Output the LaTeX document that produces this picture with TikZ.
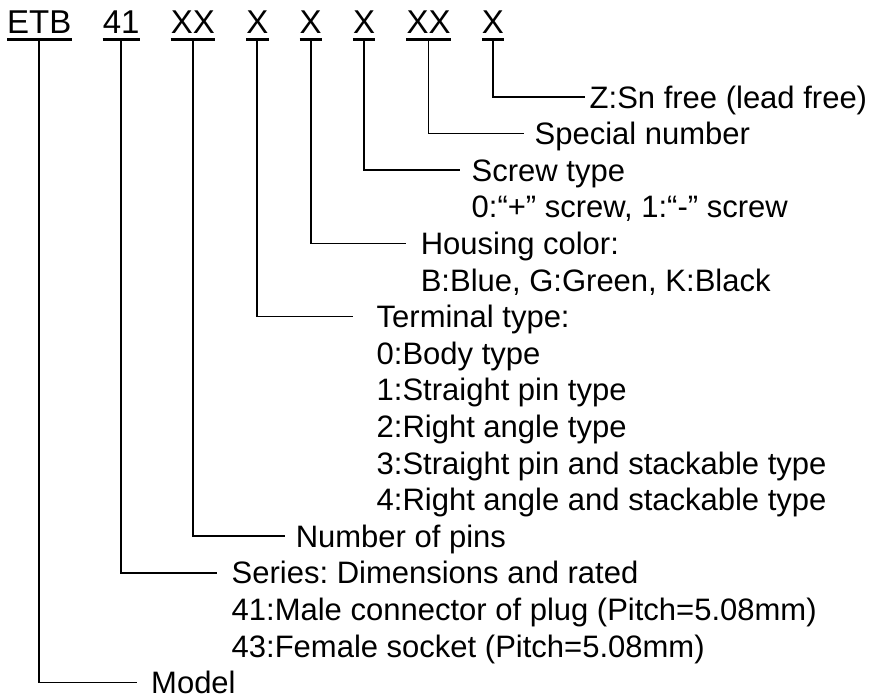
\documentclass[tikz,border=0pt]{standalone}
\usepackage{fontspec}
\setmainfont{Liberation Sans}
\usetikzlibrary{positioning}
\frenchspacing

\begin{document}
\begin{tikzpicture}[x=1pt,y=-1pt,font=\fontsize{31}{36.6}\selectfont,
  code/.style={inner sep=0pt,font=\fontsize{33}{36.6}\selectfont,text height=23.6pt,text depth=6pt},
  lab/.style={anchor=west,inner xsep=#1,inner ysep=0pt,text height=22.2pt,text depth=0pt},
  lab/.default=14pt,
  uline/.style={line width=2.6pt},
  conn/.style={line width=1.7pt}]
\useasboundingbox (0,0) rectangle (886,697);
% part number code
\node[code,anchor=base west] (cETB) at (7,33) {ETB};
\node[code,right=31pt of cETB] (cSer) {41};
\node[code,right=31pt of cSer] (cPins) {XX};
\node[code,right=31pt of cPins] (cTerm) {X};
\node[code,right=31pt of cTerm] (cColor) {X};
\node[code,right=31pt of cColor] (cScrew) {X};
\node[code,right=31pt of cScrew] (cSpec) {XX};
\node[code,right=31pt of cSpec] (cLead) {X};
\foreach \n in {cETB,cSer,cPins,cTerm,cColor,cScrew,cSpec,cLead}
  \draw[uline] (\n.south west) -- (\n.south east);
% explanations
\node[lab=4.5pt] (leadfree) at (585,97) {Z:Sn free (lead free)};
\node[lab=10.5pt] (special) at (524,133.6) {Special number};
\node[lab=11.5pt] (screw) at (460,170.2) {Screw type};
\node[lab=11.5pt] (screw1) at (460,206.8) {0:“+” screw, 1:“-” screw};
\node[lab=14.6pt] (color) at (406,243.4) {Housing color:};
\node[lab=14.6pt] (color1) at (406,280) {B:Blue, G:Green, K:Black};
\node[lab=23.5pt] (term) at (353,316.6) {Terminal type:};
\foreach \t [count=\i] in {0:Body type,1:Straight pin type,2:Right angle type,
    3:Straight pin and stackable type,4:Right angle and stackable type}
  \node[lab=23.5pt] (term\i) at ([yshift={-36.6pt*\i}]term.west) {\t};
\node[lab=10.6pt] (pins) at (285,536.2) {Number of pins};
\node[lab=14.5pt] (series) at (217,572.8) {Series: Dimensions and rated};
\node[lab=14.5pt] (series1) at (217,609.4) {41:Male connector of plug (Pitch=5.08mm)};
\node[lab=14.5pt] (series2) at (217,646) {43:Female socket (Pitch=5.08mm)};
\node[lab=14pt] (model) at (137,682.6) {Model};
% leaders
\draw[conn] (cLead.south) |- (leadfree.west);
\draw[conn] (cSpec.south) |- (special.west);
\draw[conn] (cScrew.south) |- (screw.west);
\draw[conn] (cColor.south) |- (color.west);
\draw[conn] (cTerm.south) |- (term.west);
\draw[conn] (cPins.south) |- (pins.west);
\draw[conn] (cSer.south) |- (series.west);
\draw[conn] (cETB.south) |- (model.west);
\end{tikzpicture}
\end{document}
